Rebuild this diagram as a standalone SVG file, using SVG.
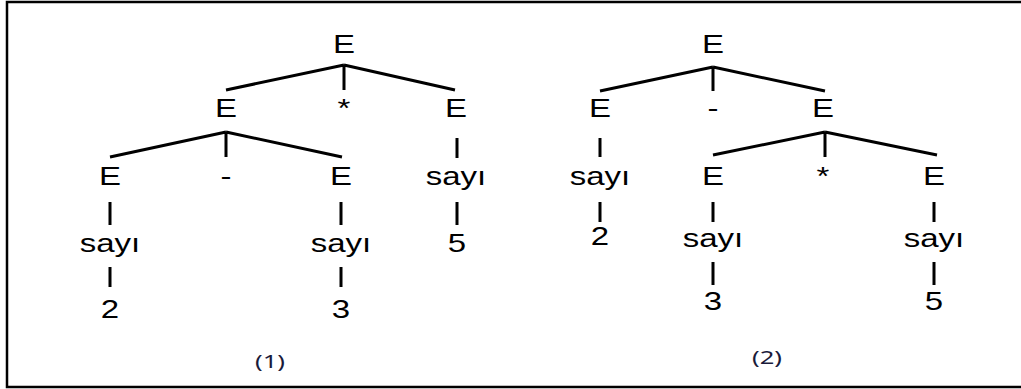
<svg xmlns="http://www.w3.org/2000/svg" width="1021" height="389" viewBox="0 0 1021 389">
<style>
.t{font-family:"Liberation Sans",Arial,sans-serif;font-size:25px;fill:#000;text-anchor:middle}
.c{stroke:#000;stroke-width:3;fill:none;stroke-linecap:butt}
.cap{font-family:"Noto Sans","DejaVu Sans",sans-serif;font-size:18px;fill:#1a1a3a;text-anchor:middle}
</style>
<rect width="1021" height="389" fill="#fff"/>
<path d="M1021,2 H7 V387 H1021" fill="none" stroke="#000" stroke-width="2.5"/>
<g id="connectors" class="c">
<path d="M344,65 L226,90 M344,65 L344,90 M344,65 L455,90"/>
<path d="M226,132 L110,157 M226,132 L226,157 M226,132 L342,157"/>
<path d="M457,138 V158"/>
<path d="M110,202 V225 M341,202 V225 M457,202 V225"/>
<path d="M110,267 V287 M341,267 V287"/>
<path d="M713,67 L600,91 M713,67 L713,91 M713,67 L825,91"/>
<path d="M600,138 V157"/>
<path d="M825,132 L713,155 M825,132 L825,157 M825,132 L937,155"/>
<path d="M600,202 V222 M713,202 V222 M934,202 V222"/>
<path d="M713,262 V285 M934,262 V285"/>
</g>
<g id="tree1-root"><text class="t" transform="translate(344,53) scale(1.32,1)">E</text></g>
<g id="tree1-E-left"><text class="t" transform="translate(226,117) scale(1.32,1)">E</text></g>
<g id="tree1-star"><text class="t" transform="translate(344,117) scale(1.32,1)">*</text></g>
<g id="tree1-E-right"><text class="t" transform="translate(456,117) scale(1.32,1)">E</text></g>
<g id="tree1-E-ll"><text class="t" transform="translate(110,185) scale(1.32,1)">E</text></g>
<g id="tree1-minus"><text class="t" transform="translate(226,185) scale(1.32,1)">-</text></g>
<g id="tree1-E-lr"><text class="t" transform="translate(341,185) scale(1.32,1)">E</text></g>
<g id="tree1-sayi-r"><text class="t" transform="translate(456,185) scale(1.32,1)">sayı</text></g>
<g id="tree1-sayi-ll"><text class="t" transform="translate(110,252) scale(1.32,1)">sayı</text></g>
<g id="tree1-sayi-lr"><text class="t" transform="translate(341,252) scale(1.32,1)">sayı</text></g>
<g id="tree1-5"><text class="t" transform="translate(457,252) scale(1.32,1)">5</text></g>
<g id="tree1-2"><text class="t" transform="translate(110,318) scale(1.32,1)">2</text></g>
<g id="tree1-3"><text class="t" transform="translate(341,318) scale(1.32,1)">3</text></g>
<g id="cap1"><text class="cap" x="270" y="368" textLength="30" lengthAdjust="spacingAndGlyphs">(1)</text></g>

<g id="tree2-root"><text class="t" transform="translate(713,53) scale(1.32,1)">E</text></g>
<g id="tree2-E-left"><text class="t" transform="translate(600,117) scale(1.32,1)">E</text></g>
<g id="tree2-minus"><text class="t" transform="translate(713,117) scale(1.32,1)">-</text></g>
<g id="tree2-E-right"><text class="t" transform="translate(823,117) scale(1.32,1)">E</text></g>
<g id="tree2-sayi-l"><text class="t" transform="translate(600,185) scale(1.32,1)">sayı</text></g>
<g id="tree2-E-rl"><text class="t" transform="translate(713,185) scale(1.32,1)">E</text></g>
<g id="tree2-star"><text class="t" transform="translate(823,185) scale(1.32,1)">*</text></g>
<g id="tree2-E-rr"><text class="t" transform="translate(934,185) scale(1.32,1)">E</text></g>
<g id="tree2-2"><text class="t" transform="translate(600,245) scale(1.32,1)">2</text></g>
<g id="tree2-sayi-rl"><text class="t" transform="translate(713,247) scale(1.32,1)">sayı</text></g>
<g id="tree2-sayi-rr"><text class="t" transform="translate(934,247) scale(1.32,1)">sayı</text></g>
<g id="tree2-3"><text class="t" transform="translate(713,310) scale(1.32,1)">3</text></g>
<g id="tree2-5"><text class="t" transform="translate(934,310) scale(1.32,1)">5</text></g>
<g id="cap2"><text class="cap" x="767" y="364" textLength="30" lengthAdjust="spacingAndGlyphs">(2)</text></g>
</svg>
